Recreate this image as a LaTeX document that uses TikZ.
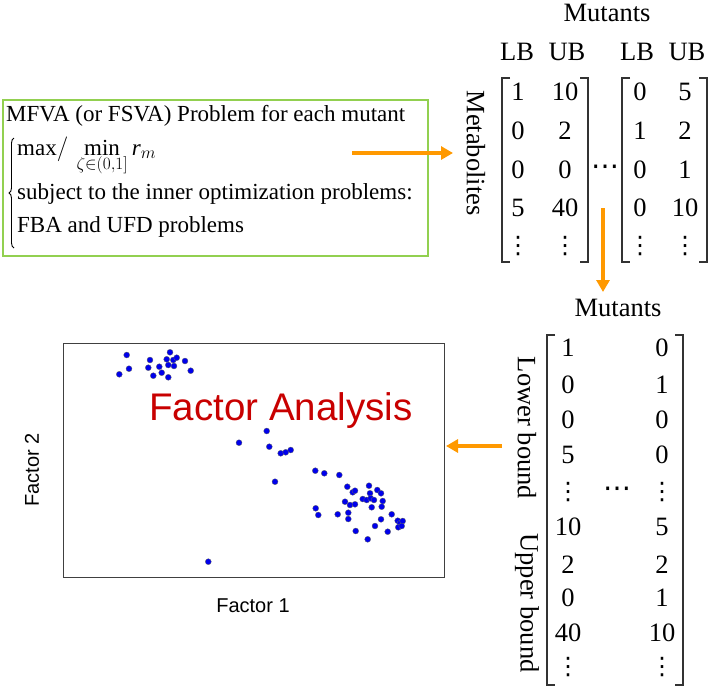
\documentclass[tikz,border=0pt]{standalone}
\usepackage{fontspec}
\setmainfont{Liberation Serif}
\newfontfamily\arialf{Liberation Sans}
\newfontfamily\dvs{DejaVu Sans}
\usetikzlibrary{arrows.meta,decorations.pathreplacing}
\definecolor{orangearrow}{RGB}{255,153,0}
\definecolor{boxgreen}{RGB}{146,208,80}
\definecolor{fared}{RGB}{200,0,0}
\definecolor{dotblue}{RGB}{0,0,235}
\begin{document}
\begin{tikzpicture}[x=1pt,y=-1pt,
  txt/.style={inner sep=0pt,font=\fontsize{23}{26}\selectfont},
  mtx/.style={inner sep=0pt,font=\fontsize{26.5}{28}\selectfont},
  vd/.style={inner sep=0pt,font=\dvs\fontsize{24}{24}\selectfont},
  hd/.style={inner sep=0pt,font=\dvs\fontsize{28}{28}\selectfont},
  flow/.style={draw=orangearrow,line width=3.5pt,-{Triangle[length=12pt,width=13pt]}},
  brk/.style={draw=black!80,line width=1.3pt},
  pdot/.style={circle,fill=dotblue,draw=black!60,line width=0.3pt,inner sep=0pt,minimum size=6pt},
  sanslbl/.style={inner sep=0pt,font=\arialf\fontsize{20}{24}\selectfont}]
\useasboundingbox (0,0) rectangle (709,686);
% problem box
\node[draw=boxgreen,line width=1.5pt,minimum width=425pt,minimum height=156pt,anchor=north west,inner sep=0pt] (pbox) at (2,99) {};
\node[txt,anchor=base west] (t1) at (6,121) {MFVA (or FSVA) Problem for each mutant};
\node[txt,anchor=base west] (t2) at (17,155) {$\mbox{max}/\,\mathop{\mbox{min}}\limits_{\zeta\in(0,1]} \mbox{\itshape r}_{m}$};
\node[txt,anchor=base west] (t3) at (17,199) {subject to the inner optimization problems:};
\node[txt,anchor=base west] (t4) at (17,232) {FBA and UFD problems};
\draw[line width=0.9pt,decorate,decoration={brace,amplitude=5pt}] (14,248) -- (14,138);
% matrix 1
\node[mtx] (mut1) at (607,13) {Mutants};
\node[mtx] (lb1) at (517,52) {LB};
\node[mtx] (ub1) at (567,52) {UB};
\node[mtx] (lb2) at (637,52) {LB};
\node[mtx] (ub2) at (687,52) {UB};
\node[mtx,rotate=-90] (metab) at (476,153) {Metabolites};
\draw[brk] (510,78) -- (502,78) -- (502,262) -- (510,262);
\draw[brk] (580,78) -- (588,78) -- (588,262) -- (580,262);
\draw[brk] (630,78) -- (622,78) -- (622,262) -- (630,262);
\draw[brk] (699,78) -- (707,78) -- (707,262) -- (699,262);
\foreach \a/\b/\c/\d [count=\i] in {1/10/0/5, 0/2/1/2, 0/0/0/1, 5/40/0/10}{
  \pgfmathsetmacro\yy{92+(\i-1)*38.7}
  \node[mtx] at (518,\yy) {\a};
  \node[mtx] at (565,\yy) {\b};
  \node[mtx] at (640,\yy) {\c};
  \node[mtx] at (685,\yy) {\d};
}
\node[vd] at (518,246) {⋮};
\node[vd] at (565,246) {⋮};
\node[vd] at (640,246) {⋮};
\node[vd] at (685,246) {⋮};
\node[hd] (hd1) at (605,170) {⋯};
% matrix 2
\node[mtx] (mut2) at (618,308) {Mutants};
\node[mtx,rotate=-90] (lower) at (527,428) {Lower bound};
\node[mtx,rotate=-90] (upper) at (527,603) {Upper bound};
\draw[brk] (555,335) -- (547,335) -- (547,685) -- (555,685);
\draw[brk] (675,335) -- (683,335) -- (683,685) -- (675,685);
\foreach \a/\b/\yy in {1/0/348, 0/1/385, 0/0/420, 5/0/455, 10/5/527, 2/2/565, 0/1/598, 40/10/633}{
  \node[mtx] at (568,\yy) {\a};
  \node[mtx] at (662,\yy) {\b};
}
\node[vd] at (568,492) {⋮};
\node[vd] at (662,492) {⋮};
\node[vd] at (568,667) {⋮};
\node[vd] at (662,667) {⋮};
\node[hd] (hd2) at (617,492) {⋯};
% arrows
\coordinate (a1s) at (352,153); \coordinate (a1e) at (453,153);
\draw[flow] (a1s) -- (a1e);
\coordinate (a2s) at (603,208); \coordinate (a2e) at (603,292);
\draw[flow] (a2s) -- (a2e);
\coordinate (a3s) at (502,446); \coordinate (a3e) at (446,446);
\draw[flow] (a3s) -- (a3e);
% plot
\node[draw=black!75,line width=1.4pt,minimum width=381pt,minimum height=234pt,anchor=north west,inner sep=0pt] (plot) at (63,343) {};
\node[sanslbl] (f1) at (253,606) {Factor 1};
\node[sanslbl,rotate=90] (f2) at (32,470) {Factor 2};
\node[inner sep=0pt,text=fared,font=\arialf\fontsize{38.5}{40}\selectfont] (fa) at (281,411) {Factor Analysis};
\foreach \px/\py in {126.7/355, 119.3/374.3, 129/368.7, 150/360, 148.3/367.7, 153.3/375.7, 159.3/366.7, 161.7/372.7, 168.3/377.3, 170/352.3, 166.7/359.3, 168.3/365, 173.3/360, 174/366, 176.7/357.7, 185/361, 190.7/370.7, 239/442.7, 266.7/431, 269.3/446.7, 280.7/453.3, 285.7/452.3, 290.7/450, 275/481.7, 315.3/470.7, 324.3/473.3, 339.3/475, 347.3/486.7, 352.7/492.3, 355/490.7, 369/485.7, 377.3/490, 381/493.3, 370/493.3, 362.7/499, 366.7/500, 370.7/498.3, 374/500, 382.7/501, 345/501.7, 350/505, 355/504.3, 371.7/507.3, 381.7/506.7, 315.7/508.3, 318.3/515, 337.7/514.3, 348.3/512.7, 348.3/519, 391.7/514.3, 381/519.3, 397.7/520.7, 400/523.3, 402.7/521, 398.3/527.3, 401.7/526, 375/526, 387.7/531.7, 355.7/531, 367.7/539.3, 208.3/561.7}{
  \node[pdot] at (\px,\py) {};
}
\end{tikzpicture}
\end{document}
